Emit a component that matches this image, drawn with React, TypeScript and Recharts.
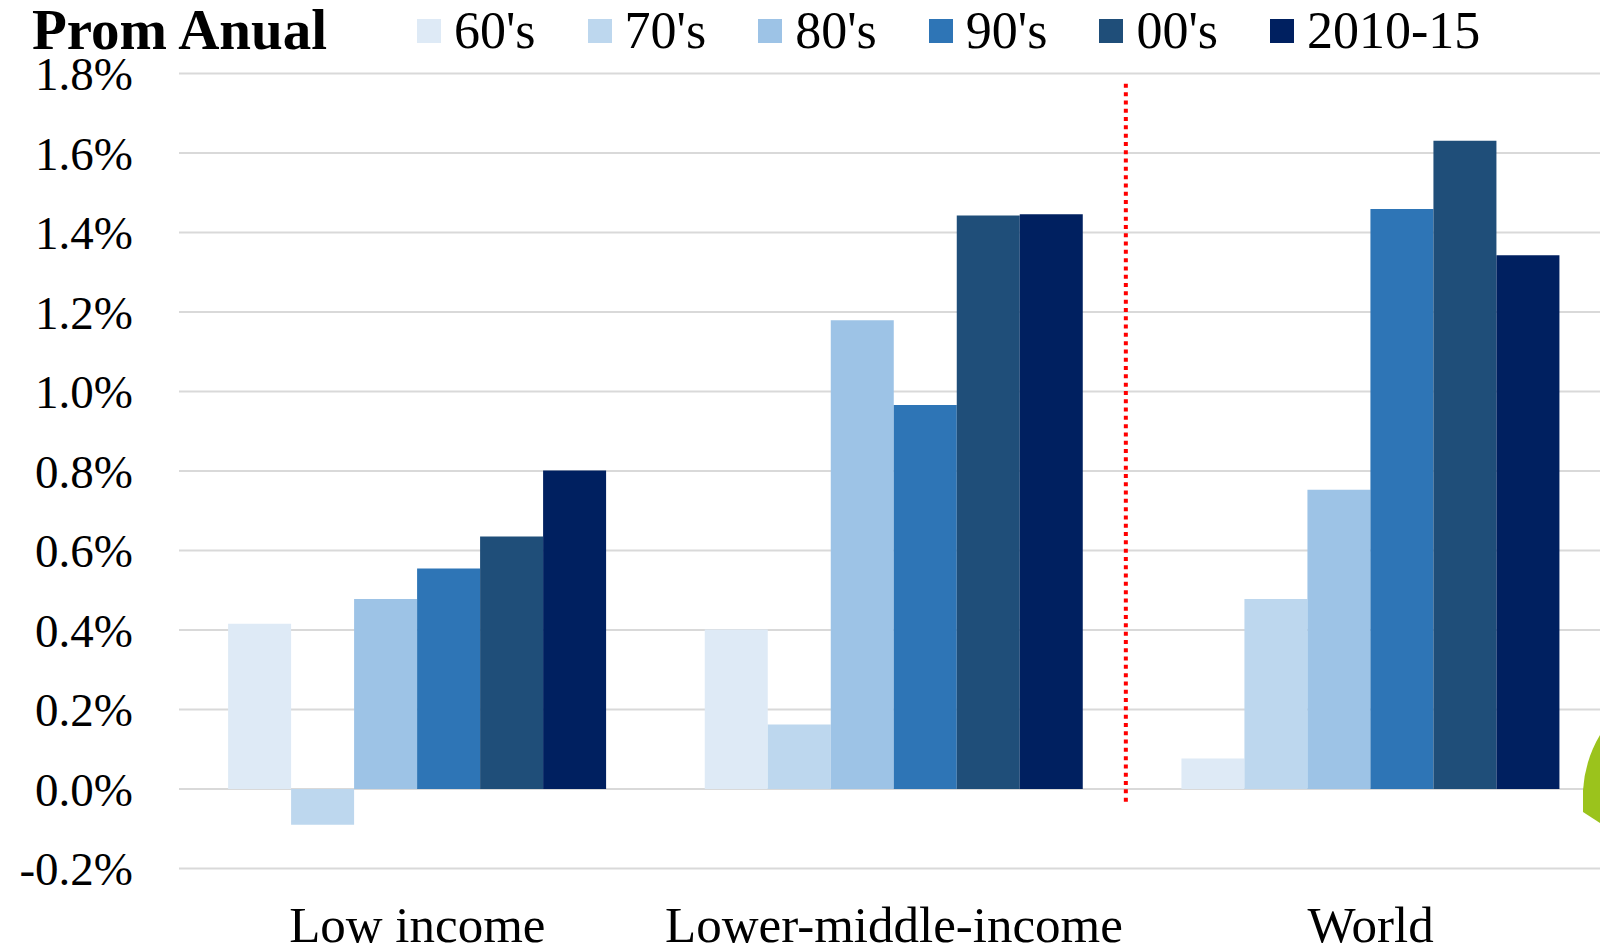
import React from "react";
import { Bar, BarChart, CartesianGrid, ReferenceLine, XAxis, YAxis } from "recharts";

const categories = ["Low income", "Lower-middle-income", "World"];
const decades = ["60's", "70's", "80's", "90's", "00's", "2010-15"];
const decadeColors = ["#DEEAF6", "#BDD7EE", "#9DC3E6", "#2E75B6", "#1F4E79", "#002060"];

// crecimiento promedio anual (%), por década
const s60 = [0.416, 0.401, 0.077];
const s70 = [-0.09, 0.162, 0.478];
const s80 = [0.478, 1.179, 0.753];
const s90 = [0.555, 0.966, 1.459];
const s00 = [0.635, 1.443, 1.631];
const s2010 = [0.801, 1.446, 1.343];

const yTicks = [-0.2, 0, 0.2, 0.4, 0.6, 0.8, 1.0, 1.2, 1.4, 1.6, 1.8];

const FONT = '"Liberation Serif", serif';

const seriesValues = [s60, s70, s80, s90, s00, s2010];
const data = categories.map((name, i) => {
  const row: Record<string, string | number> = { name };
  decades.forEach((d, k) => {
    row[d] = seriesValues[k][i];
  });
  return row;
});

const formatPct = (v: number) => `${v.toFixed(1)}%`;

// separador punteado entre grupos, un poco a la izquierda del borde de la banda
const DottedDivider = (p: any) => (
  <line
    x1={p.x1 - 6.5}
    y1={p.y1}
    x2={p.x2 - 6.5}
    y2={p.y2}
    stroke="#FF0000"
    strokeWidth={4}
    strokeDasharray="4 4.3"
  />
);

export default function App() {
  return (
    <div
      style={{
        position: "fixed",
        left: 0,
        top: 0,
        width: 1600,
        height: 948,
        overflow: "hidden",
        background: "#fff",
        fontFamily: FONT,
      }}
    >
      <div
        style={{
          position: "absolute",
          left: 32,
          top: 1,
          fontSize: 57,
          fontWeight: "bold",
          lineHeight: 1,
          color: "#000",
          whiteSpace: "nowrap",
        }}
      >
        Prom Anual
      </div>
      <div style={{ position: "absolute", left: 417, top: 6, display: "flex", width: 1180 }}>
        {decades.map((d, k) => (
          <div
            key={d}
            style={{ width: 170.6, flexShrink: 0, height: 50, display: "flex", alignItems: "center" }}
          >
            <span
              style={{ width: 24, height: 24, flexShrink: 0, background: decadeColors[k], display: "inline-block" }}
            />
            <span style={{ marginLeft: 13, fontSize: 52, lineHeight: 1, color: "#000", whiteSpace: "nowrap" }}>{d}</span>
          </div>
        ))}
      </div>

      <BarChart
        width={1640}
        height={948}
        data={data}
        margin={{ top: 73.5, right: 31, bottom: 0, left: 0 }}
        barCategoryGap="10.3%"
        barGap={0}
        style={{ position: "absolute", left: 0, top: 0 }}
      >
        <CartesianGrid stroke="#D9D9D9" strokeWidth={2} vertical={false} />
        <XAxis
          dataKey="name"
          height={79.5}
          tickSize={0}
          tickMargin={37}
          axisLine={false}
          tickLine={false}
          interval={0}
          tick={{ fontSize: 51, fill: "#000", fontFamily: FONT }}
        />
        <YAxis
          type="number"
          domain={[-0.2, 1.8]}
          ticks={yTicks}
          interval={0}
          width={179}
          tickSize={0}
          tickMargin={46}
          axisLine={false}
          tickLine={false}
          tickFormatter={formatPct}
          tick={{ fontSize: 47, fill: "#000", fontFamily: FONT }}
        />
        {decades.map((d, k) => (
          <Bar key={d} dataKey={d} fill={decadeColors[k]} isAnimationActive={false} />
        ))}
        <ReferenceLine
          segment={[
            { x: "World", y: 1.774 },
            { x: "World", y: -0.035 },
          ]}
          position="start"
          shape={DottedDivider}
        />
      </BarChart>

      <svg width={1600} height={948} style={{ position: "absolute", left: 0, top: 0, pointerEvents: "none" }}>
        <path d="M1600,735 Q1585,760 1583,790 L1583,812 L1600,823 Z" fill="#9BC31C" />
      </svg>
    </div>
  );
}
